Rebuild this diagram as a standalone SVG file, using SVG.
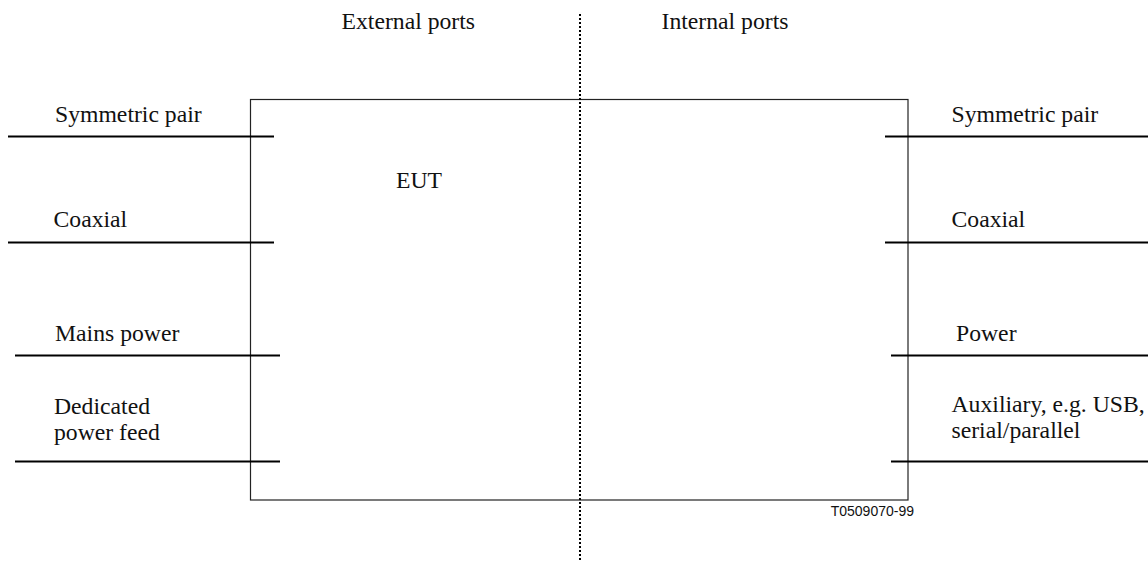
<svg xmlns="http://www.w3.org/2000/svg" width="1148" height="561" viewBox="0 0 1148 561">
  <style>
    .lbl { font-family: "Liberation Serif", "Times New Roman", serif; font-size: 23.7px; fill: #111; }
    .ref { font-family: "Liberation Sans", Arial, sans-serif; font-size: 14px; fill: #111; }
    .port { stroke: #000; stroke-width: 2; fill: none; }
    .box { stroke: #222; stroke-width: 1.2; fill: none; }
    .divider { stroke: #000; stroke-width: 2; stroke-dasharray: 2 2; fill: none; }
  </style>
  <rect width="1148" height="561" fill="#fff"/>

  <!-- column headings -->
  <text class="lbl" x="341.5" y="29">External ports</text>
  <text class="lbl" x="661.5" y="29">Internal ports</text>

  <!-- equipment under test -->
  <g id="eut">
    <rect class="box" x="250.5" y="99.5" width="657.5" height="400.5"/>
    <text class="lbl" x="396" y="188">EUT</text>
  </g>

  <!-- external/internal boundary -->
  <line class="divider" x1="580" y1="14" x2="580" y2="561"/>

  <g id="connectors">
    <!-- external side -->
    <line class="port" x1="8" y1="136.5" x2="274" y2="136.5"/>
    <line class="port" x1="8" y1="242.5" x2="274" y2="242.5"/>
    <line class="port" x1="15" y1="355.5" x2="280" y2="355.5"/>
    <line class="port" x1="15" y1="461.5" x2="280" y2="461.5"/>
    <!-- internal side -->
    <line class="port" x1="885" y1="136.5" x2="1148" y2="136.5"/>
    <line class="port" x1="885" y1="242.5" x2="1148" y2="242.5"/>
    <line class="port" x1="891" y1="355.5" x2="1148" y2="355.5"/>
    <line class="port" x1="891" y1="461.5" x2="1148" y2="461.5"/>
  </g>

  <g id="ext-symmetric"><text class="lbl" x="55" y="122">Symmetric pair</text></g>
  <g id="ext-coaxial"><text class="lbl" x="53.5" y="227">Coaxial</text></g>
  <g id="ext-mains"><text class="lbl" x="55" y="341">Mains power</text></g>
  <g id="ext-dedicated">
    <text class="lbl" x="54" y="414">Dedicated</text>
    <text class="lbl" x="54" y="440">power feed</text>
  </g>

  <g id="int-symmetric"><text class="lbl" x="951.5" y="122">Symmetric pair</text></g>
  <g id="int-coaxial"><text class="lbl" x="951.5" y="227">Coaxial</text></g>
  <g id="int-power"><text class="lbl" x="956" y="341">Power</text></g>
  <g id="int-auxiliary">
    <text class="lbl" x="951.5" y="412">Auxiliary, e.g. USB,</text>
    <text class="lbl" x="951.5" y="438">serial/parallel</text>
  </g>

  <text class="ref" x="914" y="516" text-anchor="end">T0509070-99</text>
</svg>
